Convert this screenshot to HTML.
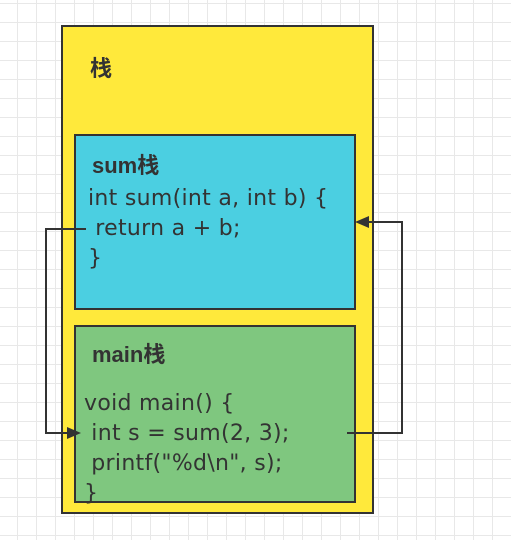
<!DOCTYPE html>
<html><head><style>
body{margin:0;width:511px;height:540px;overflow:hidden;background:#fff;
background-image:linear-gradient(#e8e8e8 1px,transparent 1px),linear-gradient(90deg,#e8e8e8 1px,transparent 1px);
background-size:19px 19px;background-position:17px 22px;font-family:"Liberation Sans","Noto Sans CJK SC",sans-serif;color:#333;position:relative}
.b{position:absolute;box-sizing:border-box;border:2px solid #333}
.t{position:absolute;font-family:"DejaVu Sans",sans-serif;font-size:22px;white-space:pre;line-height:30px;letter-spacing:0.3px}
.h{position:absolute;font-size:22px;font-weight:bold}
</style></head><body>
<div class="b" style="left:61px;top:25px;width:313px;height:489px;background:#ffe93b"></div>
<div class="h" style="left:90px;top:51px">栈</div>
<div class="b" style="left:74px;top:134px;width:282px;height:176px;background:#4bcfe1"></div>
<div class="h" style="left:92px;top:148px">sum栈</div>
<div class="t" style="left:88px;top:184px">int sum(int a, int b) {
 return a + b;
}</div>
<div class="b" style="left:74px;top:325px;width:282px;height:178px;background:#7fc77f"></div>
<div class="h" style="left:92px;top:337px">main栈</div>
<div class="t" style="left:84px;top:389px">void main() {
 int s = sum(2, 3);
 printf("%d\n", s);
}</div>
<svg width="511" height="540" style="position:absolute;left:0;top:0">
<g stroke="#333" stroke-width="2" fill="none">
<polyline points="86,229 46,229 46,433 72,433"/>
<polyline points="347,433 402,433 402,222 364,222"/>
</g>
<polygon points="81,433 67,427 67,439" fill="#333"/>
<polygon points="355,222 369,216 369,228" fill="#333"/>
</svg>
</body></html>
